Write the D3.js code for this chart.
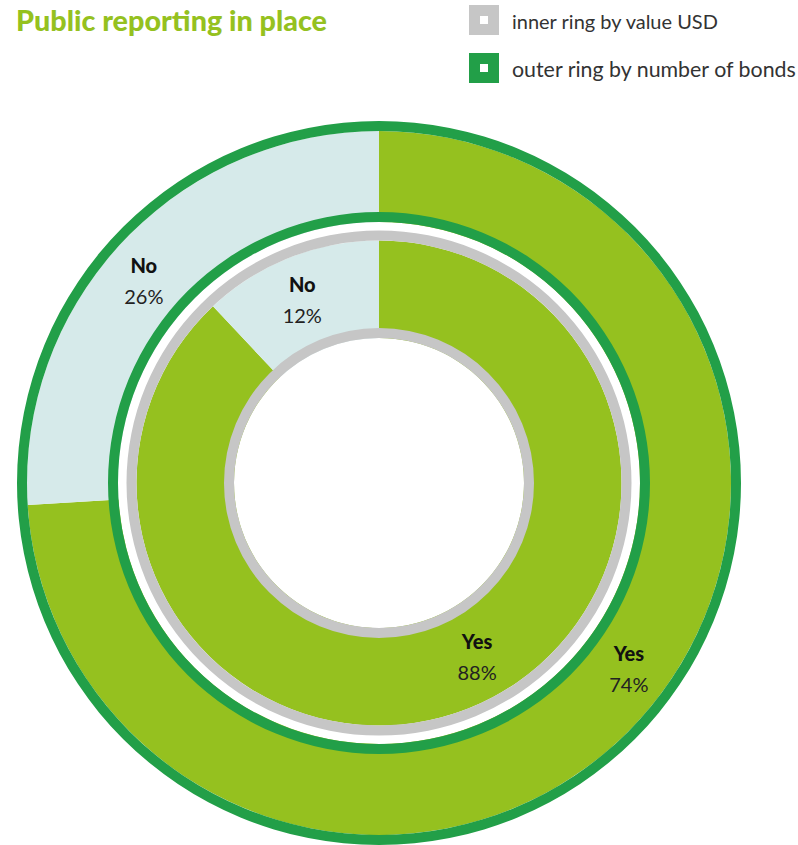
<!DOCTYPE html>
<html>
<head>
<meta charset="utf-8">
<script src="https://cdn.jsdelivr.net/npm/d3@7"></script>
<style>
  html, body { margin: 0; padding: 0; background: #fff; }
  svg { display: block; }
</style>
</head>
<body>
<svg id="chart" width="798" height="845"></svg>
<script>
// Data
const categories = ["Yes", "No"];
const innerValues = [88, 12];   // inner ring: share by value USD
const outerValues = [74, 26];   // outer ring: share by number of bonds
const legendLabels = ["inner ring by value USD", "outer ring by number of bonds"];
const title = "Public reporting in place";

// Colours
const LIME = "#95c11f", PALE = "#d6eaea", GREEN = "#229f48", GREY = "#c6c6c6";
const fill = d3.scaleOrdinal().domain(categories).range([LIME, PALE]);

const svg = d3.select("#chart");
const cx = 379, cy = 483;

// Radii of the rings
const R = {
  outerEdgeOut: 362, outerEdgeIn: 352,
  outerFillIn: 271,
  midEdgeIn: 261,
  innerEdgeOut: 252.5, innerEdgeIn: 242.5,
  innerFillIn: 155,
  holeEdgeIn: 145
};

const g = svg.append("g").attr("transform", `translate(${cx},${cy})`);
const pie = d3.pie().sort(null).value(d => d.v);
const ring = (r0, r1) => d3.arc().innerRadius(r0).outerRadius(r1)
  .startAngle(0).endAngle(2 * Math.PI)();

function slices(values) {
  return pie(categories.map((c, i) => ({ c, v: values[i] })));
}

// Outer ring slices
const outerArc = d3.arc().innerRadius(R.midEdgeIn).outerRadius(R.outerEdgeIn);
const outerPie = slices(outerValues);
g.append("g").selectAll("path").data(outerPie).join("path")
  .attr("d", outerArc).attr("fill", d => fill(d.data.c));

// Outer ring borders
g.append("path").attr("d", ring(R.outerEdgeIn, R.outerEdgeOut)).attr("fill", GREEN);
g.append("path").attr("d", ring(R.midEdgeIn, R.outerFillIn)).attr("fill", GREEN);

// Inner ring slices
const innerArc = d3.arc().innerRadius(R.holeEdgeIn).outerRadius(R.innerEdgeIn);
const innerPie = slices(innerValues);
g.append("g").selectAll("path").data(innerPie).join("path")
  .attr("d", innerArc).attr("fill", d => fill(d.data.c));

// Inner ring borders
g.append("path").attr("d", ring(R.innerEdgeIn, R.innerEdgeOut)).attr("fill", GREY);
g.append("path").attr("d", ring(R.holeEdgeIn, R.innerFillIn)).attr("fill", GREY);

// Slice labels: placed just before the middle of each slice's sweep
function labelPos(d, r, frac) {
  const a = d.startAngle + (d.endAngle - d.startAngle) * frac;
  return [Math.sin(a) * r, -Math.cos(a) * r];
}
function drawLabels(data, r) {
  const lg = g.append("g").selectAll("g").data(data).join("g")
    .attr("transform", d => `translate(${labelPos(d, r, 0.475)})`);
  lg.append("text").attr("y", -7).attr("text-anchor", "middle")
    .style("font-family", "Lato, 'Open Sans', sans-serif").style("font-weight", 900)
    .style("font-size", "20px").attr("fill", "#111").text(d => d.data.c);
  lg.append("text").attr("y", 24).attr("text-anchor", "middle")
    .style("font-family", "Lato, 'Open Sans', sans-serif").style("font-weight", 400)
    .style("font-size", "20px").attr("fill", "#222").text(d => d.data.v + "%");
}
drawLabels(innerPie, 199);
drawLabels(outerPie, 311);

// Fit a text element to a target width by scaling its font size
function fitWidth(sel, w) {
  const n = sel.node();
  const fs = parseFloat(sel.style("font-size"));
  const cur = n.getComputedTextLength();
  if (cur > 0) sel.style("font-size", (fs * w / cur).toFixed(2) + "px");
}

// Title
const t = svg.append("text").attr("x", 16).attr("y", 31)
  .style("font-family", "Lato, 'Open Sans', sans-serif").style("font-weight", 900)
  .style("font-size", "28px").attr("fill", LIME).text(title);
fitWidth(t, 311);

// Legend
const legendColors = [GREY, GREEN];
const legendWidths = [206, 284];
const lg = svg.append("g").selectAll("g").data(legendLabels).join("g")
  .attr("transform", (d, i) => `translate(469,${5 + i * 48})`);
lg.append("rect").attr("width", 30).attr("height", 30)
  .attr("fill", (d, i) => legendColors[i]);
lg.append("rect").attr("x", 11).attr("y", 11).attr("width", 8).attr("height", 8)
  .attr("fill", "#fff");
lg.append("text").attr("x", 43).attr("y", 24)
  .style("font-family", "Lato, 'Open Sans', sans-serif").style("font-weight", 400)
  .style("font-size", "19px").attr("fill", "#333").text(d => d)
  .each(function (d, i) { fitWidth(d3.select(this), legendWidths[i]); });
</script>
</body>
</html>
